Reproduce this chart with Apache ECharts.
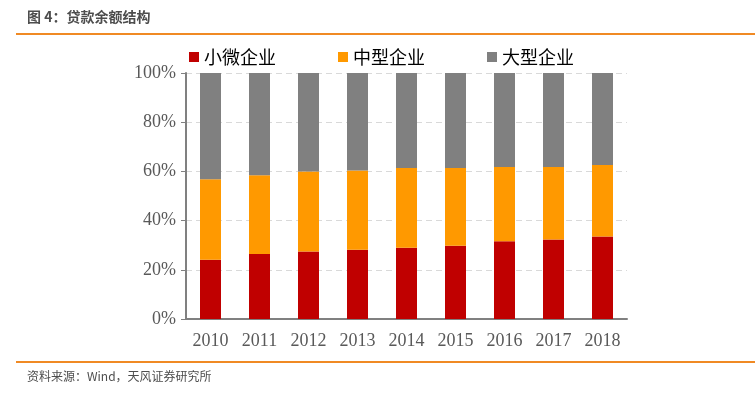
<!DOCTYPE html>
<html><head><meta charset="utf-8">
<script src="https://cdn.jsdelivr.net/npm/echarts@6/dist/echarts.min.js"></script>
<style>html,body{margin:0;padding:0;background:#fff}#c{width:755px;height:394px}</style>
</head><body><div id="c"></div>
<script>
const years = ['2010','2011','2012','2013','2014','2015','2016','2017','2018'];
const small = [24.1, 26.4, 27.4, 28.2, 29.0, 29.8, 31.6, 32.3, 33.5];
const medium = [32.7, 32.0, 32.6, 32.2, 32.4, 31.6, 30.2, 29.5, 29.1];
const large = [43.2, 41.6, 40.0, 39.6, 38.6, 38.6, 38.2, 38.2, 37.4];
const names = ['小微企业','中型企业','大型企业'];
const colors = ['#C00000','#FF9900','#808080'];

const chart = echarts.init(document.getElementById('c'), null, {renderer:'canvas'});
const serif = 'Liberation Serif, Times New Roman, serif';
const cjk = '"Noto Sans CJK SC", sans-serif';
chart.setOption({
  animation:false,
  color: colors,
  grid:{left:186,right:128,top:73,bottom:75},
  legend:{
    left:184, top:43, itemWidth:10, itemHeight:10, itemGap:62, icon:'rect',
    textStyle:{fontFamily:cjk, fontSize:18, color:'#000'},
    data:names
  },
  xAxis:{
    type:'category', data:years,
    axisLine:{lineStyle:{color:'#808080',width:2}},
    axisTick:{show:false},
    axisLabel:{fontFamily:serif, fontSize:18, color:'#595959', margin:13}
  },
  yAxis:{
    type:'value', min:0, max:100, interval:20,
    axisLine:{show:true,lineStyle:{color:'#808080',width:2}},
    axisTick:{show:true,length:5,lineStyle:{color:'#808080'}},
    axisLabel:{fontFamily:serif, fontSize:18, color:'#595959', formatter:'{value}%', margin:10},
    splitLine:{lineStyle:{color:'#d9d9d9',type:[6,4]}}
  },
  series:[
    {name:names[0],type:'bar',stack:'a',data:small,barWidth:21},
    {name:names[1],type:'bar',stack:'a',data:medium,barWidth:21},
    {name:names[2],type:'bar',stack:'a',data:large,barWidth:21}
  ],
  graphic:[
    {type:'text',left:27,top:10,style:{text:'图 4：贷款余额结构',font:'bold 14px "Noto Sans CJK SC", sans-serif',fill:'#4d4d4d'}},
    {type:'rect',shape:{x:16,y:33,width:739,height:2},style:{fill:'#F08A24'}},
    {type:'rect',shape:{x:16,y:361,width:739,height:2},style:{fill:'#F08A24'}},
    {type:'text',left:27,top:370,style:{text:'资料来源：Wind，天风证券研究所',font:'12px "Noto Sans CJK SC", sans-serif',fill:'#4d4d4d'}}
  ]
});
</script></body></html>
